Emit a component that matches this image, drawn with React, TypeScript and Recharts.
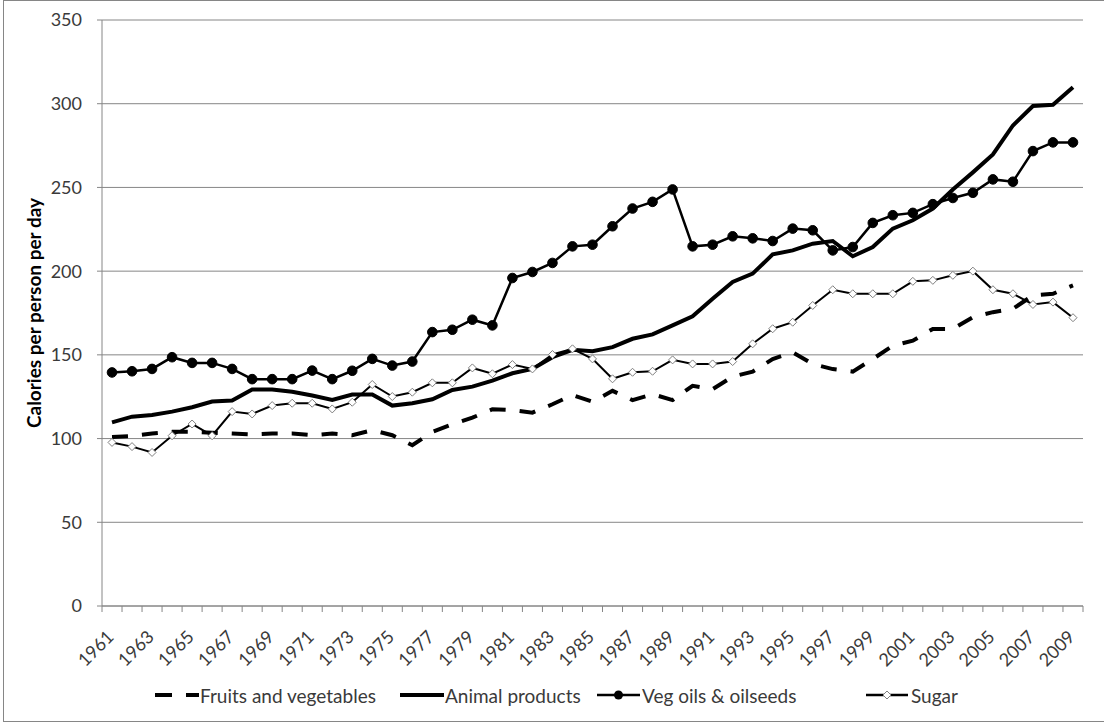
import { LineChart, Line, XAxis, YAxis, CartesianGrid, Legend } from "recharts";

const years = [
  1961, 1962, 1963, 1964, 1965, 1966, 1967, 1968, 1969, 1970, 1971, 1972, 1973,
  1974, 1975, 1976, 1977, 1978, 1979, 1980, 1981, 1982, 1983, 1984, 1985, 1986,
  1987, 1988, 1989, 1990, 1991, 1992, 1993, 1994, 1995, 1996, 1997, 1998, 1999,
  2000, 2001, 2002, 2003, 2004, 2005, 2006, 2007, 2008, 2009,
];

const fruitsVeg = [
  101, 101.5, 103, 104, 104, 103.5, 103, 102.5, 103, 103, 102, 103, 102, 105,
  102, 96, 104, 108.5, 112.5, 117.5, 117, 115.5, 120.5, 126, 122, 128.5, 123,
  126.5, 123, 131.5, 129.5, 137, 140, 147.5, 151.5, 144.5, 141.5, 140, 147.5,
  155.5, 158.5, 165.5, 165.5, 172.5, 175.5, 177.5, 185.5, 186.5, 191.5,
];

const animalProducts = [
  109.7, 113.1, 114.1, 116.1, 118.7, 122.1, 122.7, 129.3, 129.3, 128, 125.7,
  123.1, 126.3, 126.3, 119.7, 121.1, 123.5, 129, 131, 134.6, 139, 141.6, 148.6,
  153, 152.2, 154.6, 159.6, 162.2, 167.6, 173, 183.5, 193.5, 198.5, 210, 212.4,
  216.4, 218, 208.9, 214.4, 225.4, 230.4, 237.4, 248.7, 259, 269.7, 287, 298.6,
  299.4, 309.8,
];

const vegOils = [
  139.5, 140.2, 141.6, 148.6, 145.2, 145.2, 141.6, 135.5, 135.5, 135.5, 140.6,
  135.5, 140.5, 147.6, 143.6, 146, 163.6, 165, 171, 167.6, 195.9, 199.5, 204.9,
  214.8, 215.8, 226.8, 237.4, 241.4, 248.8, 214.8, 215.8, 220.8, 219.6, 218,
  225.4, 224.4, 212.4, 214.4, 228.8, 233.4, 234.8, 240, 243.7, 246.8, 254.8,
  253.4, 271.7, 276.9, 276.9,
];

const sugar = [
  97.7, 95.2, 91.7, 101.7, 108.7, 101.7, 116.1, 114.7, 119.7, 121.1, 121.1,
  117.7, 121.7, 132.3, 125.1, 127.7, 133.3, 133.3, 142.2, 138.7, 144.2, 141.6,
  150.2, 153.6, 147.6, 135.7, 139.6, 140.2, 147, 144.6, 144.6, 146, 156.6,
  165.6, 169.5, 179.5, 188.9, 186.5, 186.5, 186.5, 193.9, 194.5, 197.5, 200,
  188.9, 186.5, 180.1, 181.5, 172.2,
];

const yTicks = [0, 50, 100, 150, 200, 250, 300, 350];
const seriesOrder = ["fruitsVeg", "animalProducts", "vegOils", "sugar"];

const data = years.map((year, i) => ({
  year,
  fruitsVeg: fruitsVeg[i],
  animalProducts: animalProducts[i],
  vegOils: vegOils[i],
  sugar: sugar[i],
}));

// tick marks sit between categories, labels on every other year
const boundaryTicks = [...years.map((y) => y - 0.5), years[years.length - 1] + 0.5];
const labelTicks = years.filter((_, i) => i % 2 === 0);
const xTicks = [...boundaryTicks, ...labelTicks].sort((a, b) => a - b);

const FONT = "Lato, 'Open Sans', sans-serif";
const TEXT = "#3a3a3a";
const AXIS = "#868686";

// legend slot widths (Excel spreads the entries out a bit)
const legendSlots: Record<string, number> = {
  fruitsVeg: 245,
  animalProducts: 197,
  vegOils: 269,
  sugar: 100,
};

function XTick(props: any) {
  const { x, y, payload } = props;
  const v = payload.value;
  const axisY = y - 6;
  if (!Number.isInteger(v)) {
    return <line x1={x} x2={x} y1={axisY} y2={axisY + 6} stroke={AXIS} />;
  }
  const tx = x + 3;
  const ty = axisY + 32;
  return (
    <text
      x={tx}
      y={ty}
      transform={`rotate(-45, ${tx}, ${ty})`}
      textAnchor="end"
      fontFamily={FONT}
      fontSize={18}
      fill={TEXT}
    >
      {v}
    </text>
  );
}

function DiamondDot(props: any) {
  const { cx, cy } = props;
  if (cx == null || cy == null) return <g />;
  const r = 4;
  return (
    <path
      d={`M${cx},${cy - r}L${cx + r},${cy}L${cx},${cy + r}L${cx - r},${cy}Z`}
      fill="#fff"
      stroke="#7f7f7f"
      strokeWidth={1}
    />
  );
}

function LegendIcon({ dataKey }: { dataKey: string }) {
  return (
    <svg width={44} height={14} style={{ display: "block", flex: "none" }}>
      {dataKey === "fruitsVeg" && (
        <line x1={0} x2={44} y1={7} y2={7} stroke="#000" strokeWidth={4} strokeDasharray="17 14" />
      )}
      {dataKey === "animalProducts" && (
        <line x1={0} x2={44} y1={7} y2={7} stroke="#000" strokeWidth={4} />
      )}
      {dataKey === "vegOils" && (
        <>
          <line x1={0} x2={43} y1={7} y2={7} stroke="#000" strokeWidth={2.5} />
          <circle cx={21.5} cy={7} r={4.5} fill="#000" />
        </>
      )}
      {dataKey === "sugar" && (
        <>
          <line x1={0} x2={42} y1={7} y2={7} stroke="#000" strokeWidth={2.5} />
          <path d="M21,3L25,7L21,11L17,7Z" fill="#fff" stroke="#7f7f7f" />
        </>
      )}
    </svg>
  );
}

function LegendContent(props: any) {
  const payload = [...(props.payload || [])].sort(
    (a: any, b: any) => seriesOrder.indexOf(a.dataKey) - seriesOrder.indexOf(b.dataKey)
  );
  return (
    <div
      style={{
        display: "flex",
        justifyContent: "flex-start",
        alignItems: "center",
        height: 30,
        paddingLeft: 155,
        fontFamily: FONT,
        fontSize: 19,
        color: TEXT,
      }}
    >
      {payload.map((entry: any) => (
        <div
          key={entry.dataKey}
          style={{ display: "flex", alignItems: "center", gap: 1, width: legendSlots[entry.dataKey], flex: "none" }}
        >
          <LegendIcon dataKey={entry.dataKey} />
          <span style={{ whiteSpace: "nowrap" }}>{entry.value}</span>
        </div>
      ))}
    </div>
  );
}

function YLabel(props: any) {
  const vb = props.viewBox;
  const cx = vb.x + 33;
  const cy = vb.y + vb.height / 2;
  return (
    <text
      x={cx}
      y={cy}
      transform={`rotate(-90, ${cx}, ${cy})`}
      textAnchor="middle"
      dominantBaseline="central"
      fontFamily={FONT}
      fontWeight="bold"
      fontSize={19}
      fill="#000"
    >
      Calories per person per day
    </text>
  );
}

export default function App() {
  return (
    <div style={{ position: "absolute", left: 0, top: 0, width: 1104, height: 722, background: "#fff" }}>
      <div
        style={{
          position: "absolute",
          left: 3,
          top: 0,
          width: 1103,
          height: 722,
          boxSizing: "border-box",
          border: `1px solid ${AXIS}`,
        }}
      />
      <LineChart
        width={1104}
        height={722}
        data={data}
        margin={{ top: 20, right: 21, bottom: 12, left: 0 }}
        style={{ position: "absolute", left: 0, top: 0 }}
      >
        <CartesianGrid horizontal vertical={false} stroke={AXIS} />
        <XAxis
          dataKey="year"
          type="number"
          domain={[1960.5, 2009.5]}
          ticks={xTicks}
          interval={0}
          tickLine={false}
          tickSize={6}
          tickMargin={0}
          height={74}
          axisLine={{ stroke: AXIS }}
          tick={<XTick />}
          allowDataOverflow
        />
        <YAxis
          width={102}
          domain={[0, 350]}
          ticks={yTicks}
          interval={0}
          tickSize={5}
          tickMargin={15}
          axisLine={{ stroke: AXIS }}
          tickLine={{ stroke: AXIS }}
          tick={{ fill: TEXT, fontSize: 18, fontFamily: FONT }}
          label={{ content: <YLabel /> }}
        />
        <Legend verticalAlign="bottom" content={<LegendContent />} wrapperStyle={{ left: 0, width: 1104 }} />
        <Line
          dataKey="fruitsVeg"
          name="Fruits and vegetables"
          stroke="#000"
          strokeWidth={4}
          strokeDasharray="16 14"
          dot={false}
          isAnimationActive={false}
        />
        <Line
          dataKey="animalProducts"
          name="Animal products"
          stroke="#000"
          strokeWidth={4}
          dot={false}
          isAnimationActive={false}
        />
        <Line
          dataKey="vegOils"
          name="Veg oils & oilseeds"
          stroke="#000"
          strokeWidth={2.5}
          dot={{ r: 4.8, fill: "#000", stroke: "#000", strokeWidth: 1 }}
          isAnimationActive={false}
        />
        <Line
          dataKey="sugar"
          name="Sugar"
          stroke="#000"
          strokeWidth={2}
          dot={<DiamondDot />}
          isAnimationActive={false}
        />
      </LineChart>
    </div>
  );
}
